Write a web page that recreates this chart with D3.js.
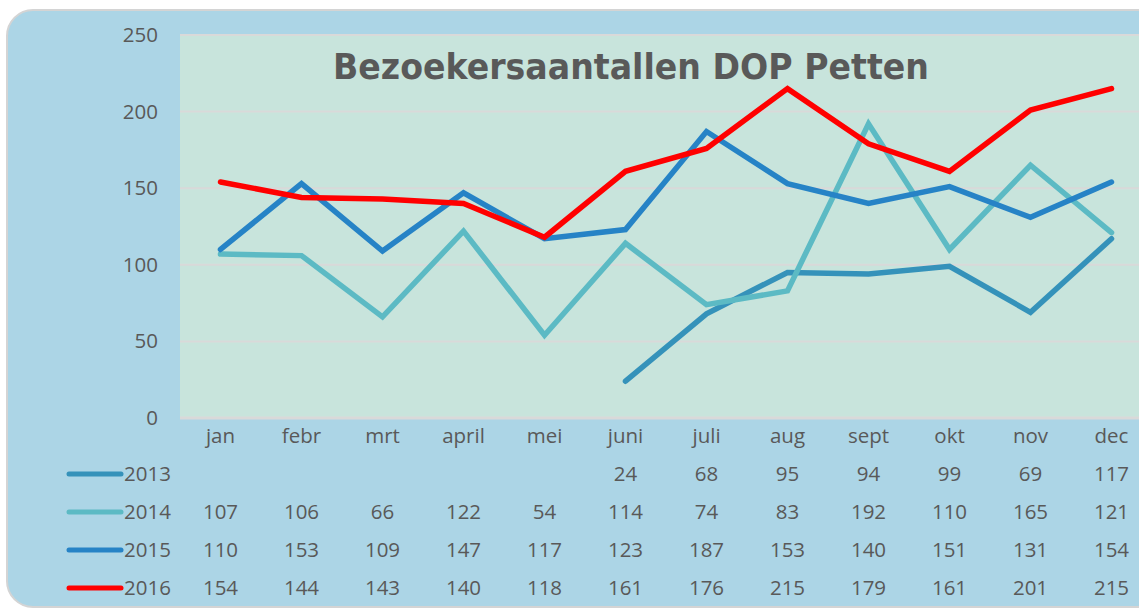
<!DOCTYPE html>
<html>
<head>
<meta charset="utf-8">
<script src="https://cdn.jsdelivr.net/npm/d3@7"></script>
<style>
  body { margin: 0; background: #fff; }
  svg { display: block; }
</style>
</head>
<body>
<div id="chart"></div>
<script>
const months = ['jan', 'febr', 'mrt', 'april', 'mei', 'juni', 'juli', 'aug', 'sept', 'okt', 'nov', 'dec'];
const years = ['2013', '2014', '2015', '2016'];
const v2013 = [null, null, null, null, null, 24, 68, 95, 94, 99, 69, 117];
const v2014 = [107, 106, 66, 122, 54, 114, 74, 83, 192, 110, 165, 121];
const v2015 = [110, 153, 109, 147, 117, 123, 187, 153, 140, 151, 131, 154];
const v2016 = [154, 144, 143, 140, 118, 161, 176, 215, 179, 161, 201, 215];
const yTicks = [0, 50, 100, 150, 200, 250];
const title = 'Bezoekersaantallen DOP Petten';

const seriesColors = ['#3592ba', '#5cbac4', '#2683c6', '#ff0000'];
const series = [v2013, v2014, v2015, v2016].map((vals, i) => ({ name: years[i], vals, color: seriesColors[i] }));

const W = 1139, H = 610;
const plot = { left: 180, top: 35, width: 972, height: 383 };
const textColor = '#595959';
const font = '"Open Sans", "Noto Sans", sans-serif';
const fontSize = 20.5;

const svg = d3.select('#chart').append('svg')
  .attr('width', W)
  .attr('height', H);

// outer frame
svg.append('rect')
  .attr('x', 7).attr('y', 10)
  .attr('width', 1160).attr('height', 597)
  .attr('rx', 26)
  .attr('fill', '#acd5e6')
  .attr('stroke', '#d4d4d4')
  .attr('stroke-width', 2);

const x = d3.scaleBand()
  .domain(months)
  .range([plot.left, plot.left + plot.width]);

const y = d3.scaleLinear()
  .domain([0, 250])
  .range([plot.top + plot.height, plot.top]);

// plot area
svg.append('rect')
  .attr('x', plot.left).attr('y', plot.top)
  .attr('width', plot.width).attr('height', plot.height)
  .attr('fill', '#c8e4dc');

// gridlines
svg.append('g')
  .selectAll('line')
  .data(yTicks)
  .join('line')
  .attr('x1', plot.left)
  .attr('x2', plot.left + plot.width)
  .attr('y1', d => y(d))
  .attr('y2', d => y(d))
  .attr('stroke', '#d9d9d9')
  .attr('stroke-width', d => d === 0 ? 3 : 2);

// y axis
const yAxis = svg.append('g')
  .attr('transform', `translate(${plot.left - 22},0)`)
  .call(d3.axisLeft(y).tickValues(yTicks).tickSize(0).tickPadding(0));
yAxis.select('.domain').remove();
yAxis.selectAll('text')
  .attr('font-family', font)
  .attr('font-size', fontSize)
  .attr('fill', textColor);

// x axis labels
const xAxis = svg.append('g')
  .attr('transform', `translate(0,${plot.top + plot.height})`)
  .call(d3.axisBottom(x).tickSize(0).tickPadding(10));
xAxis.select('.domain').remove();
xAxis.selectAll('text')
  .attr('font-family', font)
  .attr('font-size', fontSize)
  .attr('fill', textColor);

// title
svg.append('text')
  .attr('x', 631)
  .attr('y', 79)
  .attr('text-anchor', 'middle')
  .attr('font-family', '"DejaVu Sans", Verdana, sans-serif')
  .attr('font-weight', 700)
  .attr('font-size', 36)
  .attr('textLength', 596)
  .attr('lengthAdjust', 'spacingAndGlyphs')
  .attr('fill', textColor)
  .text(title);

// lines
const line = d3.line()
  .defined(d => d.v != null)
  .x(d => x(d.m) + x.bandwidth() / 2)
  .y(d => y(d.v));

svg.append('g')
  .selectAll('path')
  .data(series)
  .join('path')
  .attr('fill', 'none')
  .attr('stroke', d => d.color)
  .attr('stroke-width', 5.5)
  .attr('stroke-linejoin', 'miter')
  .attr('stroke-linecap', 'round')
  .attr('d', d => line(d.vals.map((v, i) => ({ m: months[i], v }))));

// data table
const rowY = d3.scaleBand()
  .domain(years)
  .range([455, 607]);

const rows = svg.append('g')
  .selectAll('g')
  .data(series)
  .join('g')
  .attr('transform', d => `translate(0,${rowY(d.name) + rowY.bandwidth() / 2})`);

rows.append('line')
  .attr('x1', 69).attr('x2', 121)
  .attr('stroke', d => d.color)
  .attr('stroke-width', 5)
  .attr('stroke-linecap', 'round');

rows.append('text')
  .attr('x', 124)
  .attr('dy', '0.35em')
  .attr('font-family', font)
  .attr('font-size', fontSize)
  .attr('fill', textColor)
  .text(d => d.name);

rows.selectAll('text.val')
  .data(d => d.vals.map((v, i) => ({ m: months[i], v })).filter(e => e.v != null))
  .join('text')
  .attr('class', 'val')
  .attr('x', d => x(d.m) + x.bandwidth() / 2)
  .attr('dy', '0.35em')
  .attr('text-anchor', 'middle')
  .attr('font-family', font)
  .attr('font-size', fontSize)
  .attr('fill', textColor)
  .text(d => d.v);
</script>
</body>
</html>
